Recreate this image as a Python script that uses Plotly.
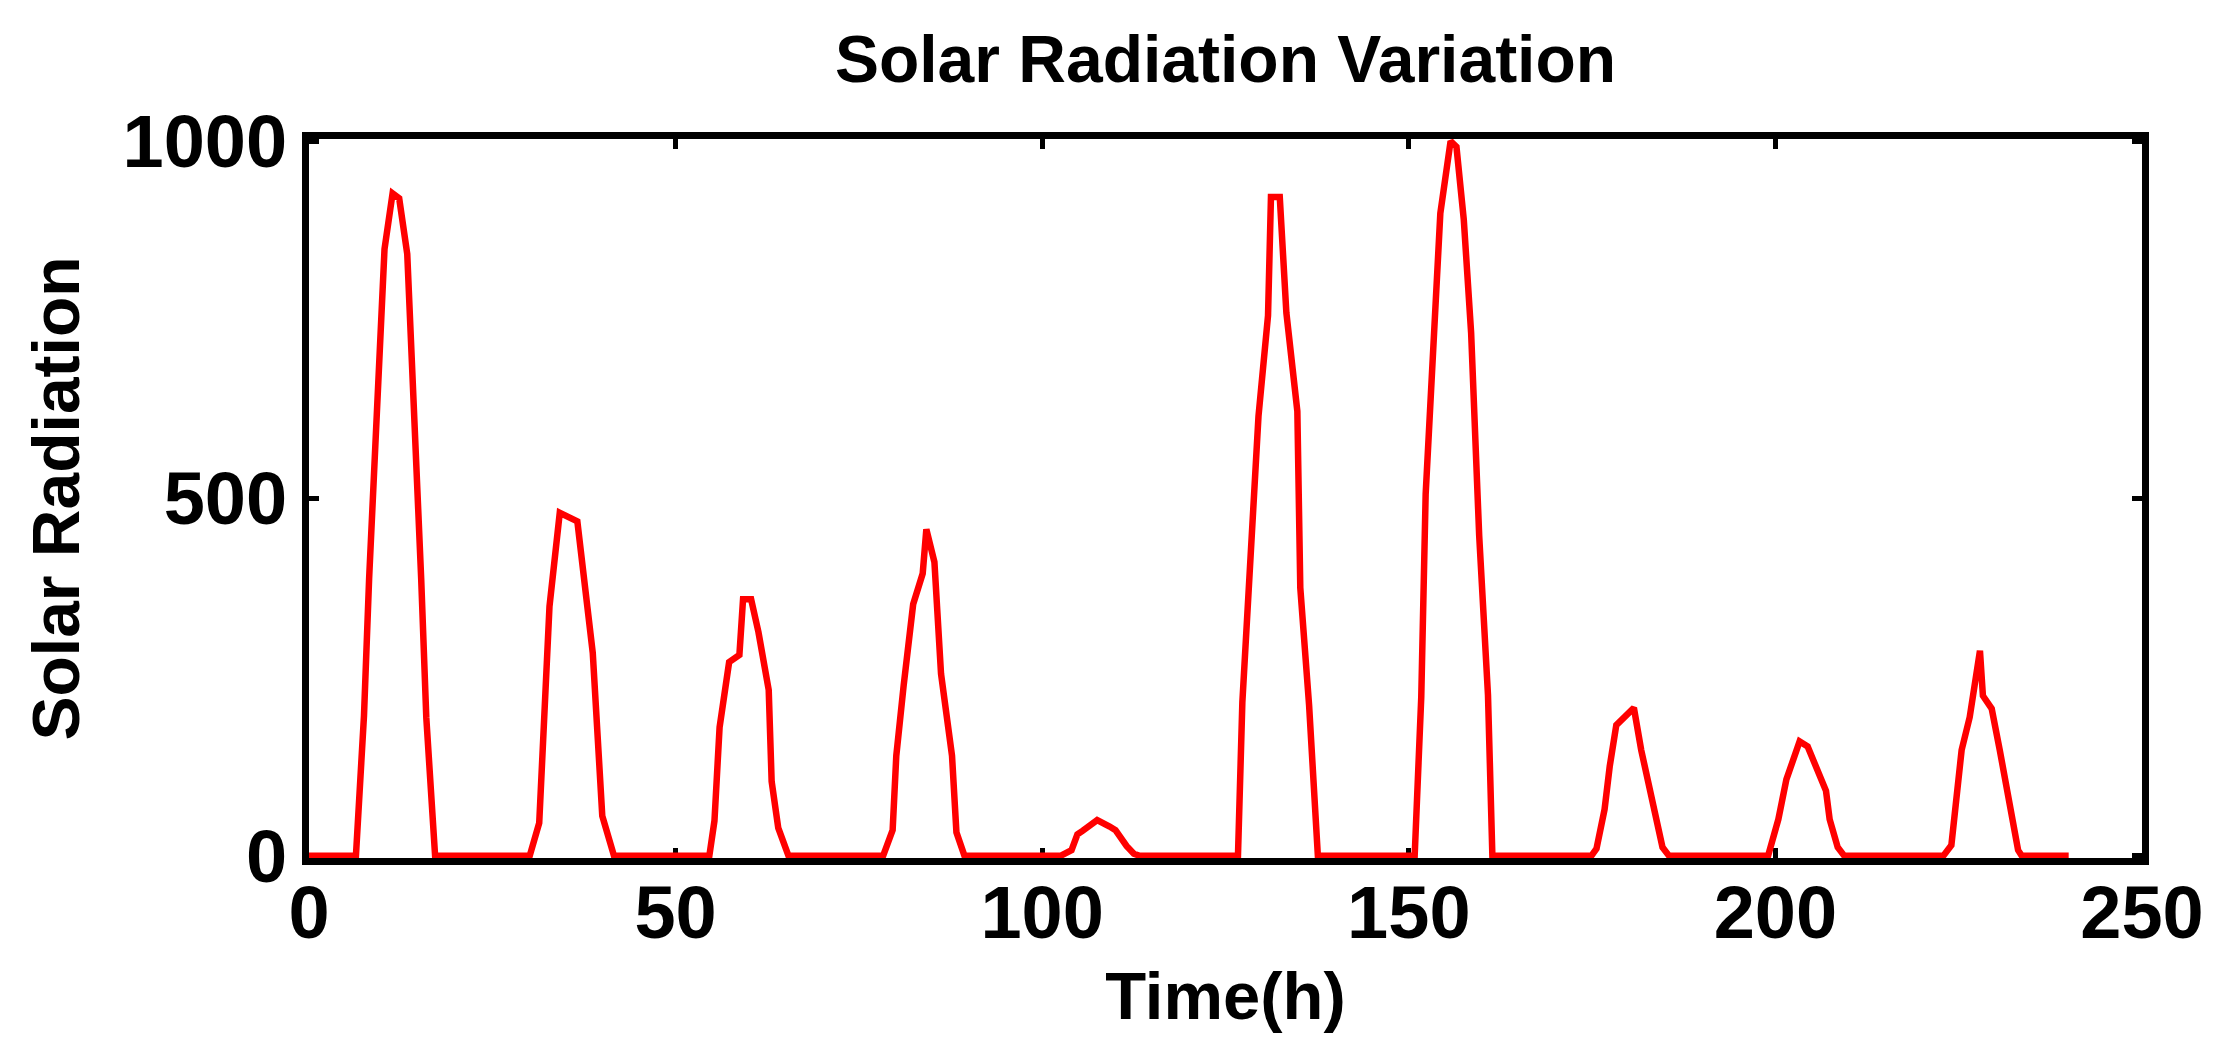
import plotly.graph_objects as go

# Time (h) of each vertex of the recorded curve and solar radiation values (W/m2)
time_h = [0,
          6.4, 7.5, 8.2, 10.3, 11.4, 12.3, 13.4, 15.3, 16.0, 17.2,
          30.1, 31.4, 32.1, 32.8, 34.2, 36.6, 38.7, 39.4, 40.0, 41.6,
          54.6, 55.3, 56.0, 57.3, 58.7, 59.2, 60.3, 61.3, 62.7, 63.1, 64.0, 65.4,
          78.3, 79.6, 80.1, 81.1, 82.4, 83.7, 84.2, 85.3, 86.2, 87.7, 88.3, 89.4,
          102.5, 104.0, 104.8, 105.5, 106.5, 107.5, 109.2, 110.0, 111.5, 112.5, 113.3,
          126.7, 127.3, 129.5, 130.8, 131.2, 132.4, 133.3, 134.8, 135.2, 136.4, 137.6,
          150.8, 151.7, 152.3, 153.4, 154.3, 155.7, 156.5, 157.5, 158.5, 159.6, 160.8, 161.4,
          174.9, 175.6, 176.7, 177.4, 178.3, 180.7, 181.7, 184.6, 185.5,
          199.0, 200.4, 201.5, 203.3, 204.4, 206.9, 207.4, 208.5, 209.4,
          222.9, 224.0, 225.4, 226.5, 227.9, 228.3, 229.5, 230.6, 232.0, 233.1, 233.6,
          240]

solar_radiation = [0,
                   0, 196, 388, 849, 927, 920, 842, 388, 193, 0,
                   0, 46, 212, 349, 480, 468, 284, 160, 56, 0,
                   0, 49, 180, 271, 281, 359, 359, 313, 232, 104, 39, 0,
                   0, 36, 140, 238, 352, 395, 457, 411, 255, 140, 33, 0,
                   0, 8, 30, 35, 42, 50, 41, 36, 14, 3, 0,
                   0, 215, 615, 756, 922, 922, 760, 622, 375, 211, 0,
                   0, 222, 506, 737, 899, 1000, 992, 890, 732, 448, 225, 0,
                   0, 10, 65, 125, 183, 207, 148, 12, 0,
                   0, 51, 107, 160, 153, 91, 51, 12, 0,
                   0, 15, 148, 194, 287, 224, 206, 148, 65, 8, 0,
                   0]

x_ticks = [0, 50, 100, 150, 200, 250]
y_ticks = [0, 500, 1000]

FONT = "Liberation Sans, Arial, Helvetica, sans-serif"

fig = go.Figure()
fig.add_trace(go.Scatter(
    x=time_h, y=solar_radiation, mode="lines",
    line=dict(color="#ff0000", width=6.5),
    showlegend=False, hoverinfo="x+y",
))

axis_common = dict(
    showline=True, linecolor="black", linewidth=7, mirror="allticks",
    ticks="inside", ticklen=10, tickwidth=5, tickcolor="black",
    showgrid=False, zeroline=False, layer="below traces",
    tickfont=dict(family=FONT, size=74, color="black", weight="bold"),
)

fig.update_layout(
    width=2216, height=1047,
    paper_bgcolor="white", plot_bgcolor="white",
    margin=dict(l=309, r=74, t=139, b=189),
    title=dict(
        text="Solar Radiation Variation",
        font=dict(family=FONT, size=66, color="black", weight="bold"),
        x=0.5, xref="paper", xanchor="center",
        y=1 - 59 / 1047, yref="container", yanchor="middle",
    ),
    xaxis=dict(
        range=[0, 250], tickvals=x_ticks, ticktext=[str(v) for v in x_ticks],
        ticklabelstandoff=-16,
        title=dict(text="Time(h)", standoff=22,
                   font=dict(family=FONT, size=67, color="black", weight="bold")),
        **axis_common,
    ),
    yaxis=dict(
        range=[-3, 1003], tickvals=y_ticks, ticktext=[str(v) for v in y_ticks],
        title=dict(text="Solar Radiation", standoff=24,
                   font=dict(family=FONT, size=66, color="black", weight="bold")),
        **axis_common,
    ),
)

fig.write_html("out.html")
